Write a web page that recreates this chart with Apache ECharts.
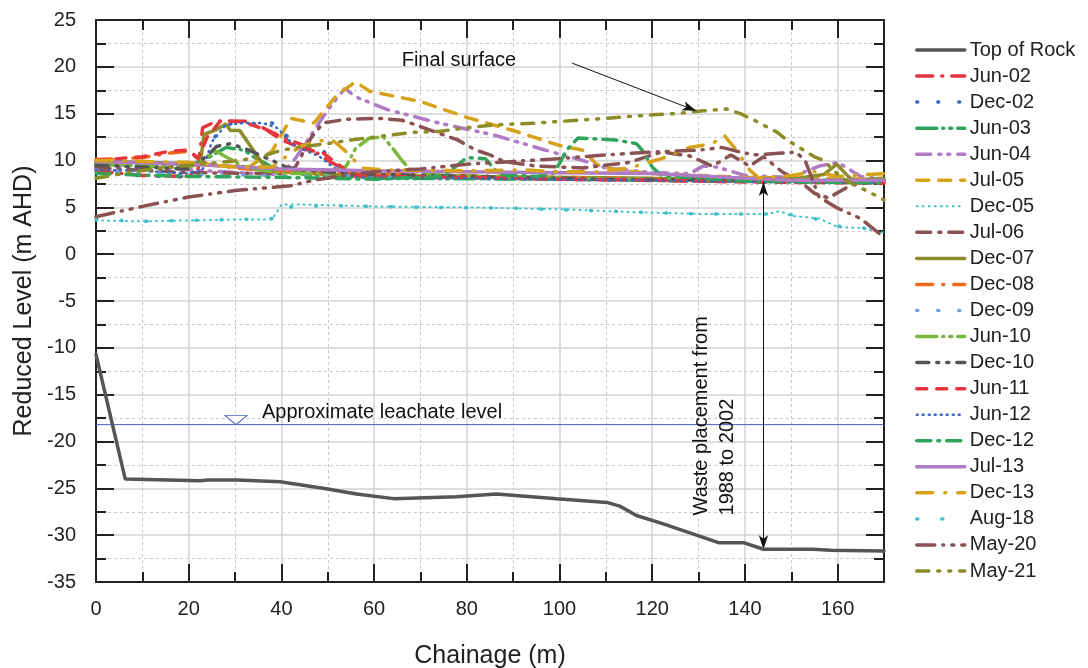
<!DOCTYPE html>
<html>
<head>
<meta charset="utf-8">
<script src="https://cdn.jsdelivr.net/npm/echarts@6/dist/echarts.min.js"></script>
<style>
  html, body { margin: 0; padding: 0; background: #fff; }
  #main { width: 1088px; height: 668px; }
</style>
</head>
<body>
<div id="main"></div>
<script>
// survey dates (legend order)
var names = ['Top of Rock', 'Jun-02', 'Dec-02', 'Jun-03', 'Jun-04', 'Jul-05', 'Dec-05', 'Jul-06',
  'Dec-07', 'Dec-08', 'Dec-09', 'Jun-10', 'Dec-10', 'Jun-11', 'Jun-12', 'Dec-12', 'Jul-13',
  'Dec-13', 'Aug-18', 'May-20', 'May-21'];

// [chainage (m), reduced level (m AHD)]
var topOfRock = [[0,-10.7],[6.3,-24],[22.4,-24.2],[24.2,-24.1],[30.4,-24.1],[39.7,-24.3],[49,-25.0],[56.2,-25.6],[64.2,-26.1],[77.8,-25.9],[86.4,-25.6],[99.4,-26.1],[110.2,-26.5],[113,-26.9],[116.6,-27.9],[122.4,-28.8],[134.3,-30.8],[139.7,-30.8],[144,-31.5],[154.8,-31.5],[158.4,-31.6],[170,-31.7]];
var jun02 = [[0,8.9],[10,8.4],[20,8.3],[22,9],[23,13.5],[26,14.2],[33,14.2],[38,13],[41,12.3],[46,11.4],[50,10],[53,9.2],[55,8.3],[70,8.2],[100,8.0],[130,7.8],[170,7.7]];
var dec02 = [[0,9.3],[5,8.8],[9,8.4],[14,8.3],[22,8.2],[24,10],[25.5,12.4],[27,13.6],[29.6,14],[33,13.8],[38,14],[40,13.7],[41,12.7],[43,12],[49,11.1],[50,10.4],[52.3,9.3],[54,8.6],[60,8.3],[90,8.0],[120,7.9],[140,7.8],[170,7.7]];
var jun03 = [[0,9.7],[10,9.5],[20,9.4],[25,10.5],[28,11.4],[32,11.1],[34,10.4],[38,9.3],[45,8.5],[60,8.1],[100,8.0],[140,7.8],[170,7.9]];
var jun04 = [[0,9.5],[20,9],[35,8.6],[40,8.5],[43,10.2],[50,15.4],[53.7,17.7],[56,16.8],[63,15.4],[74,14],[86,12.7],[97,11.1],[105,10],[110,9.2],[120,8.7],[128,8.6],[131,9.4],[134,9.3],[140,8.4],[150,8.2],[156,9.4],[160,9.8],[165,8.3],[170,8.0]];
var jul05 = [[0,9.8],[20,9.6],[33,9.3],[38,11],[42,14.5],[47,14],[52,17],[56,18.4],[59,17.4],[70,16.3],[80,14.6],[90,13.2],[100,11.6],[105,11.1],[108,9.6],[112,9],[120,8.6],[140,8.2],[170,8.0]];
var dec05 = [[0,3.6],[10,3.5],[20,3.6],[30,3.7],[38,3.7],[40,5.3],[45,5.3],[60,5.1],[80,5.0],[100,4.8],[115,4.5],[130,4.3],[145,4.3],[147.5,4.6],[150,4.1],[156,3.8],[160,2.9],[165,2.8],[170,2.3]];
var jul06 = [[0,9.2],[20,8.7],[40,8.6],[43,9.3],[46.5,12.5],[49,14],[54,14.4],[61,14.5],[66,14.3],[69,13.8],[74,12.9],[78,12.2],[82,11.1],[85,10.6],[88,9.9],[95,9.4],[105,9.2],[115,9.8],[122,10.9],[128,10.5],[133,9.4],[137,10.6],[141,9.4],[144,10.4],[148,8.8],[152,7.7],[155,6.5],[158,6.0],[163,7.4],[170,7.8]];
var dec07 = [[0,9.9],[10,9.8],[22.5,9.6],[23.3,12.8],[26,13.3],[28,13.9],[29,13.2],[31,13.2],[37,8.9],[50,8.5],[80,8.3],[120,8.1],[150,8.0],[157,8.5],[159.8,9.6],[162.5,8.2],[164.5,7.6],[166,8],[170,8.1]];
var dec08 = [[0,10.1],[10,10.3],[16,10.8],[20,11],[24,9.6],[30,9.2],[40,8.8],[60,8.6],[90,8.3],[120,8.0],[140,7.8],[170,7.8]];
var dec09 = [[0,9.0],[20,8.5],[60,8.3],[100,8.1],[140,7.9],[170,7.8]];
var jun10 = [[0,9.6],[10,9.4],[20,9.2],[24,10.4],[26,11],[28,10.4],[32,9.3],[40,8.6],[50,8.6],[54,9.4],[56,11.3],[59,12.4],[62,12.5],[64,11.3],[66,10],[68,8.9],[75,8.4],[100,8.1],[140,7.9],[170,7.9]];
var dec10 = [[0,9.5],[10,9.3],[20,9.1],[24,10.5],[26,11.5],[29,11.8],[33,11.1],[38,10],[41,9.3],[44,9.0],[55,8.6],[80,8.3],[110,8.0],[140,7.9],[170,7.8]];
var jun11 = [[0,10],[10,10.4],[16,11.0],[20,11.1],[22,10.2],[24,12.5],[27,14.3],[32,14.1],[37,13.2],[40,12.2],[45,11.2],[49,10.8],[52,9.7],[55,8.5],[60,8.3],[80,8.2],[100,8],[120,7.9],[140,7.7],[170,7.6]];
var jun12 = [[0,9.0],[10,8.9],[20,8.6],[23,9],[25,12],[28,13.8],[32,14],[36,14],[39,13.5],[43,11.5],[48,10.5],[52,9],[56,8.2],[100,8.0],[140,7.7],[170,7.6]];
var dec12 = [[0,8.6],[20,8.3],[40,8.2],[60,8.0],[75,8.3],[80,10.3],[84,10.2],[87,8.5],[95,8.3],[98.6,8.6],[100,9.7],[101.5,11.1],[104,12.4],[108,12.3],[112,12.2],[116.6,11.8],[118,11],[120,9.3],[122,8.4],[140,7.8],[170,7.6]];
var jul13 = [[0,9.9],[20,9.6],[40,9.1],[60,8.9],[80,8.8],[100,8.7],[120,8.6],[140,8.1],[150,7.9],[170,7.9]];
var dec13 = [[0,10],[20,9.8],[30,9.3],[38,9.3],[44,11.5],[48,12.1],[51,12.2],[55,10.5],[57,9.2],[62,9.0],[80,8.9],[92,9.0],[100,8.8],[108,8.8],[115,9.2],[122,10.2],[128,11.4],[133,11.8],[135.5,12.7],[138,11.2],[141,9],[143,8.1],[150,8.4],[155,8.8],[160,8.3],[170,8.6]];
var aug18 = [[0,3.7],[10,3.5],[20,3.6],[30,3.7],[38,3.8],[40,5.0],[50,5.2],[70,5.0],[90,4.9],[110,4.6],[130,4.3],[145,4.3],[150,4.2],[155,3.8],[159,3.0],[164,2.9],[168,2.6],[170,2.4]];
var may20 = [[0,4],[10,5.1],[20,6.1],[30,6.8],[42,7.3],[47,7.9],[55,8.5],[60,8.8],[70,9.1],[80,9.6],[90,9.9],[100,10.2],[110,10.6],[120,10.9],[130,11.1],[135,11.4],[139,10.9],[142,10.6],[148,10.8],[151,10.9],[153,10],[156,6.1],[160,4.9],[165,3.8],[170,1.8]];
var may21 = [[0,8.1],[8,8.8],[14,9.2],[29,9.9],[35,10.3],[40,11.1],[45,11.5],[50,11.8],[55,12.2],[60,12.5],[68,13],[74,13.1],[80,13.5],[86,13.8],[95,14],[104,14.3],[110,14.5],[115,14.7],[121,14.9],[125,15],[131,15.3],[136,15.5],[139,15],[142,14.3],[147,13],[149,12.2],[152,11.3],[155,10.4],[157,10],[159,9],[161,8.1],[166.5,6.7],[170,5.8]];

var leachate = [[0,-18.2],[170,-18.2]];

var allData = [topOfRock, jun02, dec02, jun03, jun04, jul05, dec05, jul06, dec07, dec08, dec09,
  jun10, dec10, jun11, jun12, dec12, jul13, dec13, aug18, may20, may21];

var colors = ['#555555', '#e8343c', '#3b6bbf', '#2ea55a', '#b07bc4', '#d6a21a', '#3ec1c9', '#8a5252',
  '#8c8c28', '#f06a1e', '#6f9fdc', '#78b83a', '#555555', '#e8343c', '#3b6bbf', '#2ea55a', '#b07bc4',
  '#d6a21a', '#3ec1c9', '#8a5252', '#8c8c28'];

var dashes = ['solid', [16,9,1,9], [1,20], [20,6,1,6,2,6], [14,8,2,7,2,8], [12,10], [1,5], [14,8,2,8],
  'solid', [16,10,1,10], [1,20], [20,6,1,6,2,6], [12,8,2,8,2,8], [10,10], [1,5], [14,7,2,7], 'solid',
  [16,12,1,12], [1,24], [18,8,1,8,2,8], [12,9,2,9,2,9]];

var widths = [3.5, 3.5, 3.5, 3.5, 3.5, 3.5, 2, 3.5, 3.5, 3.5, 3.5, 3.5, 3.5, 3.5, 2.5, 3.5, 3.5, 3.5, 3.5, 3.5, 3.5];

var font = 'Liberation Sans, Arial, sans-serif';

var series = names.map(function (n, i) {
  return {
    name: n,
    type: 'line',
    data: allData[i],
    showSymbol: false,
    symbol: 'none',
    z: i === 0 ? 5 : 3,
    lineStyle: { color: colors[i], width: widths[i], type: dashes[i], cap: 'round' },
    itemStyle: { color: colors[i] }
  };
});

// leachate level with inverted triangle marker
series.push({
  name: 'leachate',
  type: 'line',
  data: leachate,
  symbol: 'none',
  silent: true,
  z: 4,
  lineStyle: { color: '#4a5cc0', width: 1 },
  markPoint: {
    silent: true,
    animation: false,
    data: [{ coord: [30.2, -18.2], symbol: 'triangle', symbolRotate: 180, symbolSize: [22, 9],
      symbolOffset: [0, -4.5], itemStyle: { color: '#fff', borderColor: '#4a5cc0', borderWidth: 1 },
      label: { show: false } }]
  }
});

// arrows
series.push({
  name: 'arrows',
  type: 'line',
  data: [],
  silent: true,
  markLine: {
    silent: true,
    animation: false,
    symbol: ['none', 'arrow'],
    symbolSize: [7, 14],
    label: { show: false },
    lineStyle: { color: '#111', width: 1, type: 'solid' },
    data: [
      [{ coord: [102.7, 20.4] }, { coord: [129.5, 15.3] }],
      [{ coord: [144, 7.7], symbol: 'arrow' }, { coord: [144, -31.5] }]
    ]
  }
});

var axisCommon = {
  type: 'value',
  axisLine: { show: true, onZero: false, lineStyle: { color: '#222', width: 2 } },
  axisTick: { show: true, inside: true, length: 18, lineStyle: { color: '#222', width: 2 } },
  minorTick: { show: true, splitNumber: 2, length: 10, lineStyle: { color: '#222', width: 2 } }
};

var option = {
  backgroundColor: '#fff',
  animation: false,
  textStyle: { fontFamily: font },
  grid: { left: 96, right: 204, top: 20, bottom: 86, containLabel: false, outerBoundsMode: 'none' },
  legend: {
    data: names,
    orient: 'vertical',
    left: 910,
    top: 35,
    itemWidth: 48,
    itemHeight: 12,
    itemGap: 6.05,
    itemStyle: { color: 'rgba(0,0,0,0)', borderColor: 'rgba(0,0,0,0)', borderWidth: 0 },
    lineStyle: { width: 'inherit' },
    textStyle: { fontSize: 20, color: '#222', fontFamily: font, lineHeight: 20 }
  },
  xAxis: [
    Object.assign({}, axisCommon, {
      min: 0, max: 170, interval: 20,
      name: 'Chainage (m)', nameLocation: 'middle', nameGap: 62,
      nameTextStyle: { fontSize: 25, color: '#222', fontFamily: font },
      axisLabel: { fontSize: 20, color: '#222', margin: 17, showMaxLabel: false, fontFamily: font },
      splitLine: { show: true, lineStyle: { color: '#d3d3d3', width: 1.5 } },
      minorSplitLine: { show: true, lineStyle: { color: '#c8c8c8', width: 1, type: [3, 3] } }
    }),
    Object.assign({}, axisCommon, {
      position: 'top', min: 0, max: 170, interval: 20,
      axisLabel: { show: false }, splitLine: { show: false }
    })
  ],
  yAxis: [
    Object.assign({}, axisCommon, {
      min: -35, max: 25, interval: 5,
      name: 'Reduced Level (m AHD)', nameLocation: 'middle', nameGap: 52,
      nameTextStyle: { fontSize: 25, color: '#222', fontFamily: font },
      axisLabel: { fontSize: 20, color: '#222', margin: 20, fontFamily: font },
      splitLine: { show: true, lineStyle: { color: '#d3d3d3', width: 1.5 } },
      minorSplitLine: { show: true, lineStyle: { color: '#c8c8c8', width: 1, type: [3, 3] } }
    }),
    Object.assign({}, axisCommon, {
      position: 'right', min: -35, max: 25, interval: 5,
      axisLabel: { show: false }, splitLine: { show: false }
    })
  ],
  series: series
};

var myChart = echarts.init(document.getElementById('main'), null, { renderer: 'canvas' });
myChart.setOption(option, true);

// text annotations placed in data coordinates
function px(c) { return myChart.convertToPixel({ xAxisIndex: 0, yAxisIndex: 0 }, c); }
var pFinal = px([78.3, 20.7]);
var pLeach = px([35.8, -16.85]);
var pWaste = px([133.5, -27.9]);
var txt = { fill: '#111', font: '20px ' + font };
myChart.setOption({
  graphic: [
    { type: 'text', x: pFinal[0], y: pFinal[1], silent: true, z: 10,
      style: Object.assign({ text: 'Final surface', textAlign: 'center', textVerticalAlign: 'middle' }, txt) },
    { type: 'text', x: pLeach[0], y: pLeach[1], silent: true, z: 10,
      style: Object.assign({ text: 'Approximate leachate level', textAlign: 'left', textVerticalAlign: 'middle' }, txt) },
    { type: 'text', x: pWaste[0], y: pWaste[1], rotation: Math.PI / 2, silent: true, z: 10,
      style: Object.assign({ text: 'Waste placement from\n1988 to 2002', textAlign: 'left',
        textVerticalAlign: 'middle', lineHeight: 26 }, txt) }
  ]
});
</script>
</body>
</html>
